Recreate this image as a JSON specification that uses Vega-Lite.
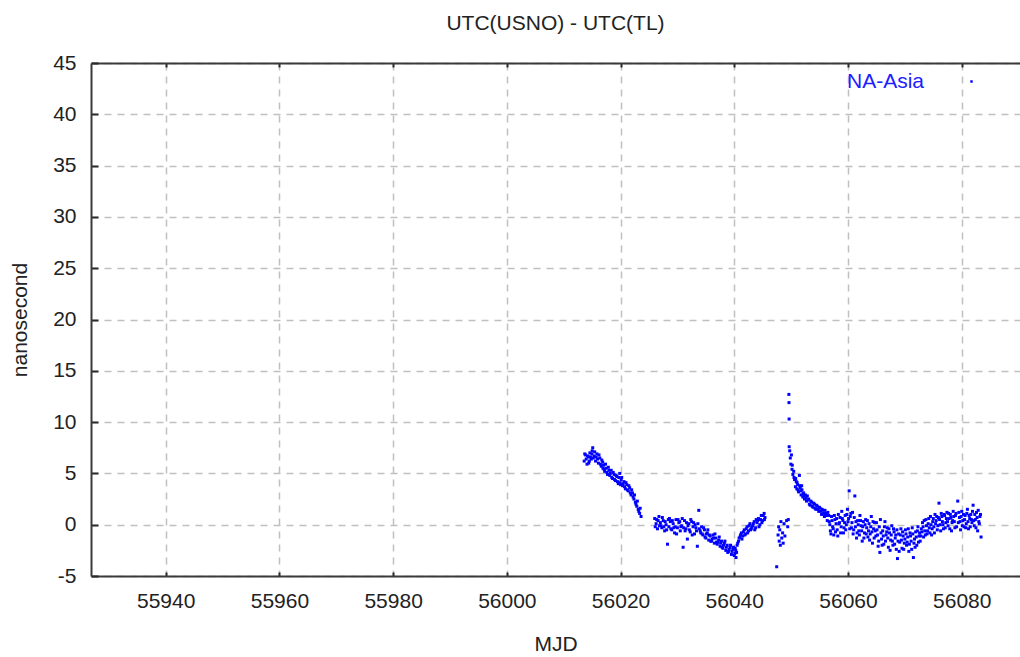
{
  "$schema": "https://vega.github.io/schema/vega-lite/v6.json",
  "width": 929,
  "height": 513,
  "autosize": {"type": "none"},
  "padding": {"left": 91, "top": 63, "right": 0, "bottom": 81},
  "background": "white",
  "title": {"text": "UTC(USNO) - UTC(TL)", "font": "Liberation Sans", "fontSize": 21, "fontWeight": "normal", "color": "#222222", "baseline": "alphabetic", "offset": 30, "dy": 29},
  "config": {
    "view": {"stroke": null},
    "font": "Liberation Sans",
    "axis": {"labelFont": "Liberation Sans", "titleFont": "Liberation Sans", "labelFontSize": 21, "titleFontSize": 21, "titleFontWeight": "normal", "labelColor": "#222222", "titleColor": "#222222", "domainColor": "#3a3a3a", "domainWidth": 2, "tickColor": "#2a2a2a", "tickWidth": 2, "gridColor": "#c0c0c0", "gridWidth": 1.5, "gridDash": [7, 6], "gridOpacity": 1}
  },
  "data": {"name": "pts"},
  "datasets": {
    "pts": [
      {"mjd": 56013.6, "ns": 6.2}, {"mjd": 56013.85, "ns": 6.8}, {"mjd": 56014.1, "ns": 5.9}, {"mjd": 56014.35, "ns": 6.6}, {"mjd": 56014.4, "ns": 6.0}, {"mjd": 56014.6, "ns": 7.0}, {"mjd": 56014.85, "ns": 6.4}, {"mjd": 56015.0, "ns": 7.2}, {"mjd": 56015.1, "ns": 7.5}, {"mjd": 56015.35, "ns": 6.7}, {"mjd": 56015.6, "ns": 6.2}, {"mjd": 56015.85, "ns": 6.9}, {"mjd": 56016.1, "ns": 6.0}, {"mjd": 56016.35, "ns": 6.5}, {"mjd": 56016.6, "ns": 5.7}, {"mjd": 56016.85, "ns": 6.1}, {"mjd": 56016.9, "ns": 5.5}, {"mjd": 56017.1, "ns": 5.4}, {"mjd": 56017.35, "ns": 5.9}, {"mjd": 56017.6, "ns": 5.1}, {"mjd": 56017.85, "ns": 5.6}, {"mjd": 56018.1, "ns": 4.8}, {"mjd": 56018.35, "ns": 5.3}, {"mjd": 56018.6, "ns": 4.5}, {"mjd": 56018.85, "ns": 4.9}, {"mjd": 56019.1, "ns": 4.3}, {"mjd": 56019.35, "ns": 4.7}, {"mjd": 56019.6, "ns": 4.0}, {"mjd": 56019.85, "ns": 5.0}, {"mjd": 56019.9, "ns": 4.1}, {"mjd": 56020.1, "ns": 4.4}, {"mjd": 56020.35, "ns": 3.8}, {"mjd": 56020.6, "ns": 4.2}, {"mjd": 56020.85, "ns": 3.5}, {"mjd": 56021.1, "ns": 3.9}, {"mjd": 56021.35, "ns": 3.3}, {"mjd": 56021.6, "ns": 3.6}, {"mjd": 56021.85, "ns": 2.9}, {"mjd": 56022.1, "ns": 3.1}, {"mjd": 56022.35, "ns": 2.5}, {"mjd": 56022.6, "ns": 2.2}, {"mjd": 56022.85, "ns": 1.8}, {"mjd": 56023.1, "ns": 1.5}, {"mjd": 56023.35, "ns": 1.1}, {"mjd": 56023.6, "ns": 0.8},
      {"mjd": 56013.7, "ns": 6.9}, {"mjd": 56013.95, "ns": 6.4}, {"mjd": 56014.2, "ns": 6.7}, {"mjd": 56014.5, "ns": 6.2}, {"mjd": 56014.7, "ns": 6.6}, {"mjd": 56014.95, "ns": 6.9}, {"mjd": 56015.2, "ns": 6.5}, {"mjd": 56015.45, "ns": 7.1}, {"mjd": 56015.7, "ns": 6.6}, {"mjd": 56015.95, "ns": 6.4}, {"mjd": 56016.2, "ns": 6.8}, {"mjd": 56016.45, "ns": 5.9}, {"mjd": 56016.7, "ns": 6.3}, {"mjd": 56017.0, "ns": 5.8}, {"mjd": 56017.2, "ns": 5.2}, {"mjd": 56017.45, "ns": 5.5}, {"mjd": 56017.7, "ns": 4.9}, {"mjd": 56017.95, "ns": 5.3}, {"mjd": 56018.2, "ns": 5.0}, {"mjd": 56018.45, "ns": 4.6}, {"mjd": 56018.7, "ns": 5.1}, {"mjd": 56018.95, "ns": 4.4}, {"mjd": 56019.2, "ns": 4.8}, {"mjd": 56019.45, "ns": 4.2}, {"mjd": 56019.7, "ns": 4.6}, {"mjd": 56020.0, "ns": 3.9}, {"mjd": 56020.2, "ns": 4.6}, {"mjd": 56020.45, "ns": 4.0}, {"mjd": 56020.7, "ns": 3.7}, {"mjd": 56020.95, "ns": 4.1}, {"mjd": 56021.2, "ns": 3.4}, {"mjd": 56021.45, "ns": 3.8}, {"mjd": 56021.7, "ns": 3.1}, {"mjd": 56021.95, "ns": 3.4}, {"mjd": 56022.2, "ns": 2.7}, {"mjd": 56022.45, "ns": 2.9}, {"mjd": 56022.7, "ns": 2.0}, {"mjd": 56022.95, "ns": 2.3}, {"mjd": 56023.2, "ns": 1.3}, {"mjd": 56023.45, "ns": 1.6},
      {"mjd": 56026.0, "ns": 0.6}, {"mjd": 56026.25, "ns": 0.1}, {"mjd": 56026.5, "ns": -0.4}, {"mjd": 56026.6, "ns": 0.4}, {"mjd": 56026.75, "ns": 0.8}, {"mjd": 56027.0, "ns": 0.2}, {"mjd": 56027.1, "ns": -0.1}, {"mjd": 56027.25, "ns": -0.3}, {"mjd": 56027.5, "ns": 0.4}, {"mjd": 56027.75, "ns": -0.6}, {"mjd": 56028.0, "ns": 0.0}, {"mjd": 56028.25, "ns": -1.9}, {"mjd": 56028.4, "ns": 0.5}, {"mjd": 56028.5, "ns": -0.2}, {"mjd": 56028.75, "ns": 0.3}, {"mjd": 56029.0, "ns": -0.5}, {"mjd": 56029.25, "ns": 0.1}, {"mjd": 56029.5, "ns": -0.8}, {"mjd": 56029.6, "ns": -0.2}, {"mjd": 56029.75, "ns": 0.5}, {"mjd": 56030.0, "ns": -0.3}, {"mjd": 56030.25, "ns": 0.2}, {"mjd": 56030.4, "ns": 0.3}, {"mjd": 56030.5, "ns": -0.6}, {"mjd": 56030.75, "ns": -0.1}, {"mjd": 56031.0, "ns": -2.2}, {"mjd": 56031.1, "ns": -0.3}, {"mjd": 56031.25, "ns": 0.4}, {"mjd": 56031.5, "ns": -0.4}, {"mjd": 56031.75, "ns": -1.4}, {"mjd": 56032.0, "ns": 0.1}, {"mjd": 56032.1, "ns": -0.5}, {"mjd": 56032.25, "ns": -0.7}, {"mjd": 56032.5, "ns": 0.3}, {"mjd": 56032.75, "ns": -0.2}, {"mjd": 56033.0, "ns": -0.9}, {"mjd": 56033.1, "ns": 0.0}, {"mjd": 56033.25, "ns": -0.3}, {"mjd": 56033.5, "ns": -2.1}, {"mjd": 56033.75, "ns": 1.4}, {"mjd": 56034.0, "ns": -0.6}, {"mjd": 56034.1, "ns": -0.8}, {"mjd": 56034.25, "ns": -0.2}, {"mjd": 56034.5, "ns": -1.0}, {"mjd": 56034.75, "ns": -0.5}, {"mjd": 56035.0, "ns": -1.3}, {"mjd": 56035.1, "ns": -0.9}, {"mjd": 56035.25, "ns": -0.8}, {"mjd": 56035.5, "ns": -1.5}, {"mjd": 56035.75, "ns": -1.1}, {"mjd": 56036.0, "ns": -1.6}, {"mjd": 56036.1, "ns": -1.4}, {"mjd": 56036.25, "ns": -1.0}, {"mjd": 56036.5, "ns": -1.8}, {"mjd": 56036.75, "ns": -1.3}, {"mjd": 56037.0, "ns": -1.9}, {"mjd": 56037.1, "ns": -1.7}, {"mjd": 56037.25, "ns": -1.5}, {"mjd": 56037.5, "ns": -2.1}, {"mjd": 56037.75, "ns": -1.6}, {"mjd": 56038.0, "ns": -2.3}, {"mjd": 56038.1, "ns": -2.0}, {"mjd": 56038.25, "ns": -1.8}, {"mjd": 56038.5, "ns": -2.5}, {"mjd": 56038.75, "ns": -2.0}, {"mjd": 56039.0, "ns": -2.6}, {"mjd": 56039.1, "ns": -2.4}, {"mjd": 56039.25, "ns": -2.2}, {"mjd": 56039.5, "ns": -2.9}, {"mjd": 56039.75, "ns": -2.4}, {"mjd": 56040.0, "ns": -3.0}, {"mjd": 56040.1, "ns": -2.8}, {"mjd": 56040.25, "ns": -2.5}, {"mjd": 56040.3, "ns": -3.2}, {"mjd": 56040.5, "ns": -2.0}, {"mjd": 56040.75, "ns": -1.6}, {"mjd": 56041.0, "ns": -1.2}, {"mjd": 56041.1, "ns": -1.0}, {"mjd": 56041.25, "ns": -0.8}, {"mjd": 56041.5, "ns": -1.1}, {"mjd": 56041.75, "ns": -0.5}, {"mjd": 56042.0, "ns": -0.9}, {"mjd": 56042.1, "ns": -0.4}, {"mjd": 56042.25, "ns": -0.2}, {"mjd": 56042.5, "ns": -0.6}, {"mjd": 56042.75, "ns": 0.1}, {"mjd": 56043.0, "ns": -0.4}, {"mjd": 56043.1, "ns": -0.2}, {"mjd": 56043.25, "ns": -0.1}, {"mjd": 56043.5, "ns": 0.3}, {"mjd": 56043.75, "ns": -0.3}, {"mjd": 56044.0, "ns": 0.2}, {"mjd": 56044.1, "ns": 0.4}, {"mjd": 56044.25, "ns": 0.6}, {"mjd": 56044.5, "ns": 0.0}, {"mjd": 56044.75, "ns": 0.9}, {"mjd": 56045.0, "ns": 0.4}, {"mjd": 56045.25, "ns": 1.1}, {"mjd": 56045.4, "ns": 0.7},
      {"mjd": 56026.1, "ns": -0.2}, {"mjd": 56026.35, "ns": 0.5}, {"mjd": 56026.85, "ns": -0.1}, {"mjd": 56027.35, "ns": 0.7}, {"mjd": 56027.6, "ns": -0.2}, {"mjd": 56027.85, "ns": 0.3}, {"mjd": 56028.1, "ns": -0.5}, {"mjd": 56028.6, "ns": 0.6}, {"mjd": 56028.85, "ns": -0.4}, {"mjd": 56029.1, "ns": 0.4}, {"mjd": 56029.35, "ns": -0.3}, {"mjd": 56029.85, "ns": -0.9}, {"mjd": 56030.1, "ns": 0.5}, {"mjd": 56030.6, "ns": -0.2}, {"mjd": 56030.85, "ns": 0.6}, {"mjd": 56031.35, "ns": -0.6}, {"mjd": 56031.6, "ns": 0.2}, {"mjd": 56031.85, "ns": -0.1}, {"mjd": 56032.35, "ns": 0.5}, {"mjd": 56032.6, "ns": -1.0}, {"mjd": 56032.85, "ns": 0.2}, {"mjd": 56033.35, "ns": -0.6}, {"mjd": 56033.6, "ns": 0.1}, {"mjd": 56033.85, "ns": -0.4}, {"mjd": 56034.35, "ns": -0.9}, {"mjd": 56034.6, "ns": -0.3}, {"mjd": 56034.85, "ns": -1.2}, {"mjd": 56035.35, "ns": -0.5}, {"mjd": 56035.6, "ns": -1.0}, {"mjd": 56035.85, "ns": -1.6}, {"mjd": 56036.35, "ns": -1.3}, {"mjd": 56036.6, "ns": -0.9}, {"mjd": 56036.85, "ns": -1.7}, {"mjd": 56037.35, "ns": -1.2}, {"mjd": 56037.6, "ns": -1.8}, {"mjd": 56037.85, "ns": -2.2}, {"mjd": 56038.35, "ns": -1.6}, {"mjd": 56038.6, "ns": -2.2}, {"mjd": 56038.85, "ns": -2.7}, {"mjd": 56039.35, "ns": -2.0}, {"mjd": 56039.6, "ns": -2.6}, {"mjd": 56039.85, "ns": -2.2}, {"mjd": 56040.15, "ns": -2.3}, {"mjd": 56040.4, "ns": -2.7}, {"mjd": 56040.6, "ns": -1.8}, {"mjd": 56040.85, "ns": -1.3}, {"mjd": 56041.35, "ns": -1.4}, {"mjd": 56041.6, "ns": -0.7}, {"mjd": 56041.85, "ns": -1.0}, {"mjd": 56042.35, "ns": -0.8}, {"mjd": 56042.6, "ns": -0.1}, {"mjd": 56042.85, "ns": -0.5}, {"mjd": 56043.35, "ns": 0.1}, {"mjd": 56043.6, "ns": -0.5}, {"mjd": 56043.85, "ns": 0.5}, {"mjd": 56044.35, "ns": -0.2}, {"mjd": 56044.6, "ns": 0.5}, {"mjd": 56044.85, "ns": 0.2}, {"mjd": 56045.1, "ns": 0.9}, {"mjd": 56045.3, "ns": 0.5},
      {"mjd": 56047.46, "ns": -4.1}, {"mjd": 56047.7, "ns": -1.0}, {"mjd": 56047.8, "ns": -0.2}, {"mjd": 56047.9, "ns": -1.6}, {"mjd": 56048.0, "ns": -0.5}, {"mjd": 56048.1, "ns": -2.0}, {"mjd": 56048.2, "ns": 0.3}, {"mjd": 56048.35, "ns": -1.3}, {"mjd": 56048.5, "ns": -0.8}, {"mjd": 56048.6, "ns": -1.8}, {"mjd": 56048.75, "ns": 0.1}, {"mjd": 56048.9, "ns": -1.1}, {"mjd": 56049.2, "ns": 0.4}, {"mjd": 56049.4, "ns": -0.2}, {"mjd": 56049.5, "ns": 0.5},
      {"mjd": 56049.6, "ns": 12.7}, {"mjd": 56049.62, "ns": 11.9}, {"mjd": 56049.64, "ns": 10.3}, {"mjd": 56049.65, "ns": 7.6}, {"mjd": 56049.75, "ns": 7.2}, {"mjd": 56049.85, "ns": 6.5}, {"mjd": 56049.95, "ns": 5.9}, {"mjd": 56050.05, "ns": 6.8}, {"mjd": 56050.15, "ns": 5.4}, {"mjd": 56050.3, "ns": 4.9}, {"mjd": 56050.45, "ns": 5.2}, {"mjd": 56050.6, "ns": 4.4}, {"mjd": 56050.75, "ns": 3.7}, {"mjd": 56050.9, "ns": 4.2}, {"mjd": 56051.0, "ns": 3.5}, {"mjd": 56051.15, "ns": 3.9}, {"mjd": 56051.3, "ns": 3.2}, {"mjd": 56051.45, "ns": 4.8}, {"mjd": 56051.6, "ns": 3.6}, {"mjd": 56051.75, "ns": 2.9}, {"mjd": 56051.9, "ns": 3.4}, {"mjd": 56052.05, "ns": 2.7}, {"mjd": 56052.2, "ns": 3.1}, {"mjd": 56052.35, "ns": 2.5}, {"mjd": 56052.5, "ns": 2.9}, {"mjd": 56052.7, "ns": 2.3}, {"mjd": 56052.95, "ns": 2.4}, {"mjd": 56053.2, "ns": 2.0}, {"mjd": 56053.45, "ns": 2.3}, {"mjd": 56053.7, "ns": 1.8}, {"mjd": 56053.95, "ns": 2.1}, {"mjd": 56054.2, "ns": 1.6}, {"mjd": 56054.45, "ns": 1.9}, {"mjd": 56054.7, "ns": 1.5}, {"mjd": 56054.95, "ns": 1.7}, {"mjd": 56055.2, "ns": 1.3}, {"mjd": 56055.45, "ns": 1.5}, {"mjd": 56055.7, "ns": 1.1}, {"mjd": 56055.95, "ns": 1.4}, {"mjd": 56056.2, "ns": 0.9}, {"mjd": 56056.45, "ns": 1.2},
      {"mjd": 56050.2, "ns": 5.8}, {"mjd": 56050.5, "ns": 4.6}, {"mjd": 56050.8, "ns": 4.5}, {"mjd": 56051.05, "ns": 4.1}, {"mjd": 56051.2, "ns": 3.4}, {"mjd": 56051.5, "ns": 3.8}, {"mjd": 56051.7, "ns": 3.3}, {"mjd": 56051.85, "ns": 3.8}, {"mjd": 56052.1, "ns": 3.0}, {"mjd": 56052.3, "ns": 2.8}, {"mjd": 56052.6, "ns": 2.6}, {"mjd": 56052.85, "ns": 2.8}, {"mjd": 56053.1, "ns": 2.5}, {"mjd": 56053.35, "ns": 1.9}, {"mjd": 56053.6, "ns": 2.2}, {"mjd": 56053.85, "ns": 1.7}, {"mjd": 56054.1, "ns": 2.0}, {"mjd": 56054.35, "ns": 1.5}, {"mjd": 56054.6, "ns": 1.8}, {"mjd": 56054.85, "ns": 1.3}, {"mjd": 56055.1, "ns": 1.6}, {"mjd": 56055.35, "ns": 1.0}, {"mjd": 56055.6, "ns": 1.4}, {"mjd": 56055.85, "ns": 0.8}, {"mjd": 56056.1, "ns": 1.1}, {"mjd": 56056.35, "ns": 0.4}, {"mjd": 56056.6, "ns": 0.9},
      {"mjd": 56056.7, "ns": 0.3}, {"mjd": 56056.9, "ns": -0.6}, {"mjd": 56057.1, "ns": 0.8}, {"mjd": 56057.3, "ns": -0.2}, {"mjd": 56057.5, "ns": -1.0}, {"mjd": 56057.7, "ns": 0.5}, {"mjd": 56057.9, "ns": 0.1}, {"mjd": 56058.1, "ns": -0.5}, {"mjd": 56058.3, "ns": 1.0}, {"mjd": 56058.5, "ns": 0.2}, {"mjd": 56058.7, "ns": -0.8}, {"mjd": 56058.9, "ns": 1.3}, {"mjd": 56059.1, "ns": 0.4}, {"mjd": 56059.3, "ns": -0.3}, {"mjd": 56059.5, "ns": 0.9}, {"mjd": 56059.7, "ns": 0.0}, {"mjd": 56059.9, "ns": 1.5}, {"mjd": 56060.2, "ns": 3.3}, {"mjd": 56061.2, "ns": 2.8},
      {"mjd": 56056.8, "ns": 0.0}, {"mjd": 56057.0, "ns": -0.9}, {"mjd": 56057.2, "ns": 0.4}, {"mjd": 56057.4, "ns": -0.4}, {"mjd": 56057.6, "ns": 0.9}, {"mjd": 56057.8, "ns": -0.7}, {"mjd": 56058.0, "ns": 0.6}, {"mjd": 56058.2, "ns": -1.1}, {"mjd": 56058.4, "ns": 0.1}, {"mjd": 56058.6, "ns": 0.7}, {"mjd": 56058.8, "ns": -0.2}, {"mjd": 56059.0, "ns": 0.6}, {"mjd": 56059.2, "ns": -0.8}, {"mjd": 56059.4, "ns": 0.2}, {"mjd": 56059.6, "ns": -0.5}, {"mjd": 56059.8, "ns": 1.0},
      {"mjd": 56060.1, "ns": 0.6}, {"mjd": 56060.3, "ns": -0.4}, {"mjd": 56060.5, "ns": 1.1}, {"mjd": 56060.7, "ns": 0.2}, {"mjd": 56060.9, "ns": -0.9}, {"mjd": 56061.1, "ns": 0.7}, {"mjd": 56061.3, "ns": -0.2}, {"mjd": 56061.5, "ns": -1.3}, {"mjd": 56061.7, "ns": 0.4}, {"mjd": 56061.9, "ns": -0.6}, {"mjd": 56062.1, "ns": 0.9}, {"mjd": 56062.3, "ns": -0.1}, {"mjd": 56062.5, "ns": -1.6}, {"mjd": 56062.7, "ns": 0.3}, {"mjd": 56062.9, "ns": -0.8}, {"mjd": 56063.1, "ns": 0.5}, {"mjd": 56063.3, "ns": -0.3}, {"mjd": 56063.5, "ns": -1.2}, {"mjd": 56063.7, "ns": 0.1}, {"mjd": 56063.9, "ns": -0.9}, {"mjd": 56064.1, "ns": 0.8}, {"mjd": 56064.3, "ns": -1.8}, {"mjd": 56064.5, "ns": -0.4}, {"mjd": 56064.7, "ns": 0.2}, {"mjd": 56064.9, "ns": -1.1}, {"mjd": 56065.1, "ns": -0.5}, {"mjd": 56065.3, "ns": -2.1}, {"mjd": 56065.5, "ns": -0.2}, {"mjd": 56065.6, "ns": -2.7}, {"mjd": 56065.7, "ns": 0.5},
      {"mjd": 56060.0, "ns": 0.3}, {"mjd": 56060.4, "ns": 0.8}, {"mjd": 56060.6, "ns": -0.3}, {"mjd": 56060.8, "ns": 1.2}, {"mjd": 56061.0, "ns": -0.5}, {"mjd": 56061.4, "ns": 0.3}, {"mjd": 56061.6, "ns": -0.8}, {"mjd": 56061.8, "ns": 0.0}, {"mjd": 56062.0, "ns": -1.0}, {"mjd": 56062.2, "ns": 0.4}, {"mjd": 56062.4, "ns": -0.6}, {"mjd": 56062.6, "ns": -0.2}, {"mjd": 56062.8, "ns": -1.3}, {"mjd": 56063.0, "ns": 0.0}, {"mjd": 56063.2, "ns": -0.9}, {"mjd": 56063.4, "ns": 0.4}, {"mjd": 56063.6, "ns": -0.6}, {"mjd": 56063.8, "ns": -1.5}, {"mjd": 56064.0, "ns": -0.2}, {"mjd": 56064.2, "ns": -0.7}, {"mjd": 56064.4, "ns": 0.3}, {"mjd": 56064.6, "ns": -1.3}, {"mjd": 56064.8, "ns": -0.6}, {"mjd": 56065.0, "ns": 0.2}, {"mjd": 56065.2, "ns": -1.0}, {"mjd": 56065.4, "ns": -1.6},
      {"mjd": 56065.9, "ns": -1.4}, {"mjd": 56066.1, "ns": -0.6}, {"mjd": 56066.3, "ns": -1.9}, {"mjd": 56066.5, "ns": 0.3}, {"mjd": 56066.7, "ns": -1.0}, {"mjd": 56066.9, "ns": -0.3}, {"mjd": 56067.1, "ns": -2.2}, {"mjd": 56067.3, "ns": -0.8}, {"mjd": 56067.5, "ns": -1.5}, {"mjd": 56067.7, "ns": -0.1}, {"mjd": 56067.9, "ns": -2.0}, {"mjd": 56068.1, "ns": -0.7}, {"mjd": 56068.3, "ns": -1.3}, {"mjd": 56068.5, "ns": -2.4}, {"mjd": 56068.7, "ns": -3.3}, {"mjd": 56068.9, "ns": -0.9}, {"mjd": 56069.1, "ns": -1.7}, {"mjd": 56069.3, "ns": -0.4}, {"mjd": 56069.5, "ns": -2.3}, {"mjd": 56069.7, "ns": -1.1}, {"mjd": 56069.9, "ns": -1.8}, {"mjd": 56070.1, "ns": -0.5}, {"mjd": 56070.3, "ns": -2.0}, {"mjd": 56070.5, "ns": -1.2}, {"mjd": 56070.7, "ns": -2.6}, {"mjd": 56070.9, "ns": -0.8}, {"mjd": 56071.1, "ns": -1.6}, {"mjd": 56071.3, "ns": -0.3}, {"mjd": 56071.5, "ns": -3.2}, {"mjd": 56071.7, "ns": -1.4}, {"mjd": 56071.9, "ns": -0.7}, {"mjd": 56072.1, "ns": -2.0}, {"mjd": 56072.3, "ns": -0.2}, {"mjd": 56072.5, "ns": -1.1}, {"mjd": 56072.7, "ns": -1.6},
      {"mjd": 56065.8, "ns": -0.8}, {"mjd": 56066.0, "ns": -2.0}, {"mjd": 56066.2, "ns": -1.1}, {"mjd": 56066.4, "ns": -0.2}, {"mjd": 56066.6, "ns": -1.6}, {"mjd": 56066.8, "ns": -0.7}, {"mjd": 56067.0, "ns": -1.3}, {"mjd": 56067.2, "ns": -0.4}, {"mjd": 56067.4, "ns": -2.5}, {"mjd": 56067.6, "ns": -1.0}, {"mjd": 56067.8, "ns": -1.6}, {"mjd": 56068.0, "ns": -0.4}, {"mjd": 56068.2, "ns": -1.9}, {"mjd": 56068.4, "ns": -1.0}, {"mjd": 56068.6, "ns": -0.5}, {"mjd": 56068.8, "ns": -1.6}, {"mjd": 56069.0, "ns": -2.6}, {"mjd": 56069.2, "ns": -1.0}, {"mjd": 56069.4, "ns": -1.5}, {"mjd": 56069.6, "ns": -0.7}, {"mjd": 56069.8, "ns": -2.4}, {"mjd": 56070.0, "ns": -1.4}, {"mjd": 56070.2, "ns": -0.9}, {"mjd": 56070.4, "ns": -1.7}, {"mjd": 56070.6, "ns": -0.4}, {"mjd": 56070.8, "ns": -1.9}, {"mjd": 56071.0, "ns": -1.1}, {"mjd": 56071.2, "ns": -2.4}, {"mjd": 56071.4, "ns": -0.9}, {"mjd": 56071.6, "ns": -1.8}, {"mjd": 56071.8, "ns": -2.2}, {"mjd": 56072.0, "ns": -1.2}, {"mjd": 56072.2, "ns": -0.6}, {"mjd": 56072.4, "ns": -1.7}, {"mjd": 56072.6, "ns": -0.8},
      {"mjd": 56072.9, "ns": -0.4}, {"mjd": 56073.1, "ns": 0.2}, {"mjd": 56073.3, "ns": -1.2}, {"mjd": 56073.5, "ns": -0.6}, {"mjd": 56073.7, "ns": 0.5}, {"mjd": 56073.9, "ns": -0.9}, {"mjd": 56074.1, "ns": 0.1}, {"mjd": 56074.3, "ns": -0.3}, {"mjd": 56074.5, "ns": 0.8}, {"mjd": 56074.7, "ns": -1.0}, {"mjd": 56074.9, "ns": 0.3}, {"mjd": 56075.1, "ns": -0.2}, {"mjd": 56075.3, "ns": 1.0}, {"mjd": 56075.5, "ns": 0.4}, {"mjd": 56075.7, "ns": -0.5}, {"mjd": 56075.9, "ns": 0.7}, {"mjd": 56076.0, "ns": 2.1}, {"mjd": 56076.2, "ns": 0.0}, {"mjd": 56076.4, "ns": 1.1}, {"mjd": 56076.6, "ns": 0.3}, {"mjd": 56076.8, "ns": -0.4}, {"mjd": 56077.0, "ns": 0.9}, {"mjd": 56077.2, "ns": 0.2}, {"mjd": 56077.4, "ns": 1.2}, {"mjd": 56077.6, "ns": -0.1}, {"mjd": 56077.8, "ns": 0.6}, {"mjd": 56078.0, "ns": 1.0}, {"mjd": 56078.2, "ns": -0.6}, {"mjd": 56078.4, "ns": 0.4},
      {"mjd": 56072.8, "ns": -1.1}, {"mjd": 56073.0, "ns": -0.7}, {"mjd": 56073.2, "ns": -0.2}, {"mjd": 56073.4, "ns": 0.4}, {"mjd": 56073.6, "ns": -1.0}, {"mjd": 56073.8, "ns": -0.1}, {"mjd": 56074.0, "ns": -0.6}, {"mjd": 56074.2, "ns": 0.6}, {"mjd": 56074.4, "ns": -0.8}, {"mjd": 56074.6, "ns": 0.0}, {"mjd": 56074.8, "ns": -0.4}, {"mjd": 56075.0, "ns": 0.6}, {"mjd": 56075.2, "ns": -0.8}, {"mjd": 56075.4, "ns": 0.1}, {"mjd": 56075.6, "ns": 0.8}, {"mjd": 56075.8, "ns": -0.1}, {"mjd": 56076.1, "ns": 0.5}, {"mjd": 56076.3, "ns": -0.6}, {"mjd": 56076.5, "ns": 0.8}, {"mjd": 56076.7, "ns": 0.0}, {"mjd": 56076.9, "ns": 1.0}, {"mjd": 56077.1, "ns": -0.3}, {"mjd": 56077.3, "ns": 0.6}, {"mjd": 56077.5, "ns": 0.3}, {"mjd": 56077.7, "ns": 1.1}, {"mjd": 56077.9, "ns": -0.4}, {"mjd": 56078.1, "ns": 0.7}, {"mjd": 56078.3, "ns": 0.2}, {"mjd": 56078.5, "ns": 1.3},
      {"mjd": 56078.6, "ns": 0.8}, {"mjd": 56078.8, "ns": -0.3}, {"mjd": 56079.0, "ns": 1.1}, {"mjd": 56079.3, "ns": 2.3}, {"mjd": 56079.4, "ns": 0.2}, {"mjd": 56079.6, "ns": 0.7}, {"mjd": 56079.8, "ns": -0.5}, {"mjd": 56080.0, "ns": 1.3}, {"mjd": 56080.2, "ns": 0.4}, {"mjd": 56080.4, "ns": -0.2}, {"mjd": 56080.6, "ns": 0.9}, {"mjd": 56080.8, "ns": 0.1}, {"mjd": 56081.0, "ns": 1.5}, {"mjd": 56081.2, "ns": -0.4}, {"mjd": 56081.4, "ns": 0.6}, {"mjd": 56081.6, "ns": 1.0}, {"mjd": 56081.8, "ns": 0.2}, {"mjd": 56082.0, "ns": 1.9}, {"mjd": 56082.2, "ns": -0.1}, {"mjd": 56082.4, "ns": 0.5}, {"mjd": 56082.6, "ns": 1.2}, {"mjd": 56082.8, "ns": -0.6}, {"mjd": 56083.0, "ns": 0.3}, {"mjd": 56083.2, "ns": 0.8}, {"mjd": 56083.4, "ns": -1.2},
      {"mjd": 56078.7, "ns": 0.3}, {"mjd": 56078.9, "ns": 0.9}, {"mjd": 56079.1, "ns": -0.2}, {"mjd": 56079.5, "ns": 1.2}, {"mjd": 56079.7, "ns": 0.3}, {"mjd": 56079.9, "ns": 0.8}, {"mjd": 56080.1, "ns": -0.1}, {"mjd": 56080.3, "ns": 1.0}, {"mjd": 56080.5, "ns": 0.5}, {"mjd": 56080.7, "ns": -0.3}, {"mjd": 56080.9, "ns": 1.1}, {"mjd": 56081.1, "ns": 0.3}, {"mjd": 56081.3, "ns": 0.9}, {"mjd": 56081.5, "ns": -0.2}, {"mjd": 56081.7, "ns": 0.5}, {"mjd": 56081.9, "ns": 1.3}, {"mjd": 56082.1, "ns": 0.4}, {"mjd": 56082.3, "ns": 1.0}, {"mjd": 56082.5, "ns": -0.3}, {"mjd": 56082.7, "ns": 0.7}, {"mjd": 56082.9, "ns": 1.4}, {"mjd": 56083.1, "ns": 0.1}, {"mjd": 56083.3, "ns": 1.0}
    ]
  },
  "transform": [{"calculate": "'NA-Asia'", "as": "link"}],
  "resolve": {"axis": {"x": "independent"}},
  "layer": [
    {
      "mark": {"type": "point", "shape": "square", "filled": true, "size": 9, "opacity": 1},
      "encoding": {
        "x": {"field": "mjd", "type": "quantitative", "scale": {"domain": [55926.86, 56090.25], "nice": false, "zero": false},
              "axis": {"orient": "bottom", "title": "MJD", "values": [55940, 55960, 55980, 56000, 56020, 56040, 56060, 56080], "format": "d", "tickSize": -4, "labelPadding": 18, "titlePadding": 22, "grid": true}},
        "y": {"field": "ns", "type": "quantitative", "scale": {"domain": [-5, 45], "nice": false, "zero": false},
              "axis": {"title": "nanosecond", "values": [-5, 0, 5, 10, 15, 20, 25, 30, 35, 40, 45], "labelExpr": "replace(datum.label, '\u2212', '-')", "tickSize": -7, "labelPadding": 22, "titlePadding": 22, "grid": true}},
        "color": {"field": "link", "type": "nominal", "scale": {"range": ["#0000ff"]},
                  "legend": {"title": null, "orient": "none", "legendX": 870, "legendY": 8, "padding": 0, "labelFont": "Liberation Sans", "labelFontSize": 21, "labelColor": "#2020ff", "labelAlign": "right", "labelOffset": -58, "symbolType": "square", "symbolSize": 6, "symbolStrokeWidth": 0}}
      }
    },
    {
      "mark": {"type": "point", "opacity": 0},
      "encoding": {
        "x": {"field": "mjd", "type": "quantitative", "axis": {"orient": "top", "title": null, "labels": false, "grid": false, "tickSize": -4, "values": [55940, 55960, 55980, 56000, 56020, 56040, 56060, 56080]}},
        "y": {"field": "ns", "type": "quantitative"}
      }
    }
  ]
}
